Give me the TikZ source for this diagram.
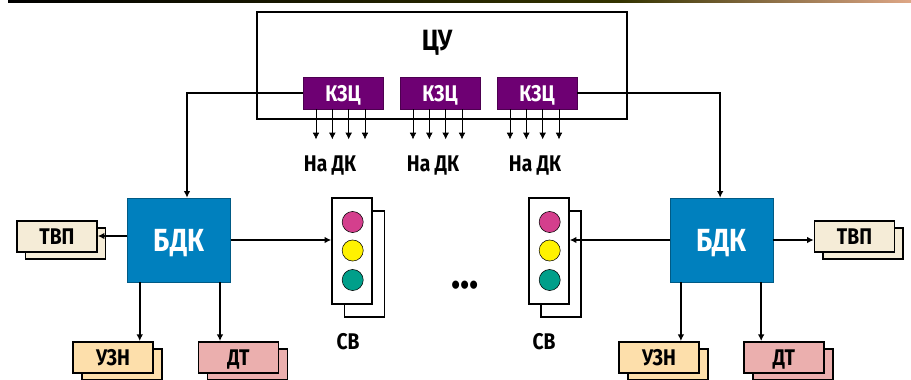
\documentclass[tikz,border=0pt]{standalone}
\usepackage{fontspec}
\setmainfont{Fira Sans}[FakeStretch=0.85]
\usetikzlibrary{arrows.meta}
\definecolor{bdkblue}{HTML}{0080BE}
\definecolor{kzcviolet}{HTML}{6E0073}
\definecolor{tvpfill}{HTML}{F5ECD7}
\definecolor{uznfill}{HTML}{FDDFAB}
\definecolor{dtfill}{HTML}{EBAFAE}
\definecolor{lampred}{HTML}{D43F8D}
\definecolor{lampyellow}{HTML}{FFF200}
\definecolor{lampgreen}{HTML}{009F8A}
\tikzset{
  unit/.style={draw=black,line width=1.2pt,inner sep=0pt,text=black,text depth=0pt,font=\fontsize{17}{17}\selectfont\bfseries},
  smallbox/.style={unit,minimum width=60pt,minimum height=23.5pt},
  bdkbox/.style={unit,fill=bdkblue,draw=bdkblue!70!black,line width=.5pt,text=white,minimum width=77pt,minimum height=63pt,font=\fontsize{24}{24}\selectfont\bfseries},
  kzcbox/.style={unit,fill=kzcviolet,draw=kzcviolet!70!black,line width=.5pt,text=white,minimum width=60pt,minimum height=24pt},
  lightbox/.style={unit,fill=white,minimum width=30pt,minimum height=79.5pt},
  lamp/.style={circle,draw=black,line width=.4pt,inner sep=0pt,minimum size=15.8pt},
  caption/.style={inner sep=0pt,text depth=0pt,font=\fontsize{17}{17}\selectfont\bfseries},
  link/.style={line width=1.2pt,-{Latex[length=5pt,width=5pt]}},
  feed/.style={line width=.5pt,-{Latex[length=5pt,width=5pt]}}
}
\begin{document}
\begin{tikzpicture}[x=.75pt,y=-.75pt]
  \useasboundingbox (0,0) rectangle (911,379);
  % Strip along the top edge
  \shade[left color=black,right color=black!80!yellow] (8,0) rectangle (620,2);
  \shade[left color=black!80!yellow,right color=red!15!brown!60] (620,0) rectangle (911,2);
  % Central unit
  \node[unit,fill=white,minimum width=277.5pt,minimum height=80pt] (cu) at (442,65.5) {};
  \node[caption,font=\fontsize{22}{22}\selectfont\bfseries] (culabel) at (437,40) {ЦУ};
  \node[kzcbox] (kzc1) at (343,93) {КЗЦ};
  \node[kzcbox] (kzc2) at (440,93) {КЗЦ};
  \node[kzcbox] (kzc3) at (537,93) {КЗЦ};
  % Outputs to the DK
  \foreach \k/\lx in {1/330,2/433,3/535} {
    \node[caption] (nadk\k) at (\lx,164) {На ДК};
    \foreach \s/\dx in {a/-20.25,b/-8,c/4.25,d/16.5} {
      \draw[feed] ([xshift=\dx pt]kzc\k.south) coordinate (out\k\s) -- ++(0,30);
    }
  }
  % Left side
  \node[bdkbox] (bdkl) at (179,240) {БДК};
  \node[smallbox,fill=tvpfill] (tvplback) at (65.5,243.5) {};
  \node[smallbox,fill=tvpfill] (tvpl) at (57,236.5) {ТВП};
  \node[smallbox,fill=uznfill] (uznlback) at (122,364.5) {};
  \node[smallbox,fill=uznfill] (uznl) at (113,357.5) {УЗН};
  \node[smallbox,fill=dtfill] (dtlback) at (247.5,364.5) {};
  \node[smallbox,fill=dtfill] (dtl) at (238.5,357.5) {ДТ};
  % Left signal
  \node[lightbox] (svlback) at (364.5,264) {};
  \node[lightbox] (svl) at (352,251) {};
  \node[lamp,fill=lampred] (redl) at (352.7,222) {};
  \node[lamp,fill=lampyellow] (yell) at (352.7,250.5) {};
  \node[lamp,fill=lampgreen] (grnl) at (352.7,280) {};
  \node[caption] (svllabel) at (348,341) {СВ};
  % Right side
  \node[bdkbox] (bdkr) at (721.5,240) {БДК};
  \node[smallbox,fill=tvpfill] (tvprback) at (863,243.5) {};
  \node[smallbox,fill=tvpfill] (tvpr) at (854.5,236.5) {ТВП};
  \node[smallbox,fill=uznfill] (uznrback) at (668,364.5) {};
  \node[smallbox,fill=uznfill] (uznr) at (659,357.5) {УЗН};
  \node[smallbox,fill=dtfill] (dtrback) at (793,364.5) {};
  \node[smallbox,fill=dtfill] (dtr) at (784,357.5) {ДТ};
  % Right signal
  \node[lightbox] (svrback) at (561,264) {};
  \node[lightbox] (svr) at (549,251) {};
  \node[lamp,fill=lampred] (redr) at (549.7,222) {};
  \node[lamp,fill=lampyellow] (yelr) at (549.7,250.5) {};
  \node[lamp,fill=lampgreen] (grnr) at (549.7,280) {};
  \node[caption] (svrlabel) at (544,341) {СВ};
  \node[caption,font=\fontsize{34}{34}\selectfont\bfseries] (dots) at (465,285) {...};
  % Links
  \draw[link] (kzc1.west) -| ([xshift=6pt]bdkl.north);
  \draw[link] (kzc3.east) -| ([xshift=-1pt]bdkr.north);
  \draw[link] ([yshift=3pt]bdkl.west) -- ([yshift=3pt]bdkl.west -| tvpl.east);
  \draw[link] (bdkl.east) -- (bdkl.east -| svl.west);
  \draw[link] (bdkr.west) -- (bdkr.west -| svr.east);
  \draw[link] (bdkr.east) -- (bdkr.east -| tvpr.west);
  \draw[link] ([xshift=9.3pt]bdkl.south west) coordinate (a) -- (a |- uznl.north);
  \draw[link] ([xshift=-8pt]bdkl.south east) coordinate (b) -- (b |- dtl.north);
  \draw[link] ([xshift=8.3pt]bdkr.south west) coordinate (c) -- (c |- uznr.north);
  \draw[link] ([xshift=-9pt]bdkr.south east) coordinate (d) -- (d |- dtr.north);
\end{tikzpicture}
\end{document}
